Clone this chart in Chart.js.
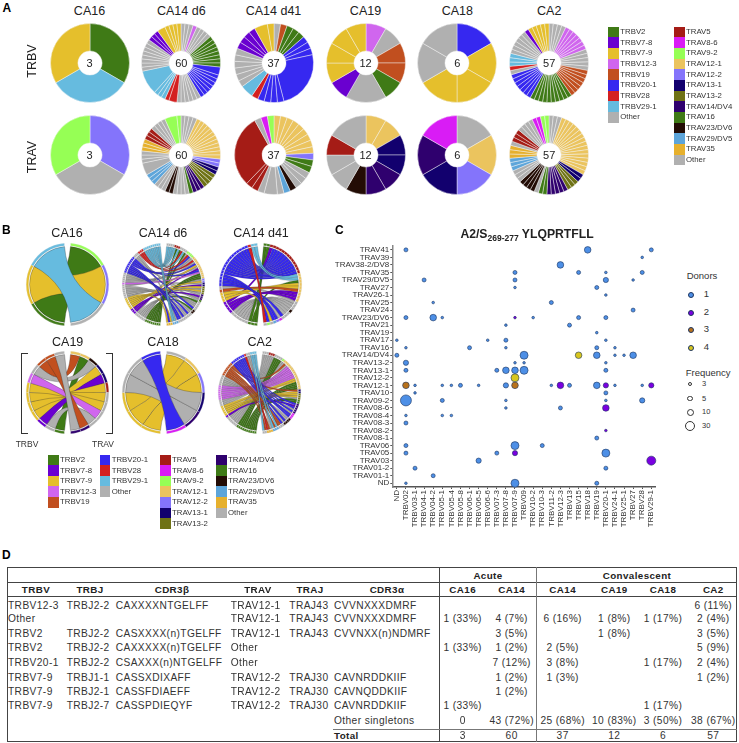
<!DOCTYPE html>
<html>
<head>
<meta charset="utf-8">
<style>
  html, body { margin: 0; padding: 0; background: #fff; }
  #page { position: relative; width: 739px; height: 743px; overflow: hidden; font-family: "Liberation Sans", Arial, sans-serif; color: #222; }
  #page canvas { position: absolute; }
  .t { position: absolute; white-space: nowrap; line-height: 1; }
  .box { position: absolute; }
  sub { font-size: 8.5px; line-height: 0; }
</style>
<script src="https://cdn.jsdelivr.net/npm/chart.js@4/dist/chart.umd.js"></script>
</head>
<body>
<div id="page"></div>
<script>
// gene colours
const betaGenes = ['TRBV2', 'TRBV7-8', 'TRBV7-9', 'TRBV12-3', 'TRBV19', 'TRBV20-1', 'TRBV28', 'TRBV29-1', 'Other'];
const betaColors = ['#3f7a16', '#6a00d0', '#e5bf2c', '#d066ee', '#c14f1f', '#3628f0', '#d42020', '#66bbdf', '#b0b0b0'];
const alphaGenes = ['TRAV5', 'TRAV8-6', 'TRAV9-2', 'TRAV12-1', 'TRAV12-2', 'TRAV13-1', 'TRAV13-2', 'TRAV14/DV4', 'TRAV16', 'TRAV23/DV6', 'TRAV29/DV5', 'TRAV35', 'Other'];
const alphaColors = ['#a51c16', '#d91cf5', '#96ff55', '#ebc45e', '#8474fb', '#12006e', '#6f7215', '#2f006e', '#3f7a16', '#230c05', '#5da5da', '#e6b02d', '#b0b0b0'];

const donors = ['CA16', 'CA14 d6', 'CA14 d41', 'CA19', 'CA18', 'CA2'];
const donorTotals = [3, 60, 37, 12, 6, 57];

// Panel A, clockwise from 12 o'clock: [gene, clone sizes...]
const pieBetaCA16 = [['TRBV2', 1], ['TRBV29-1', 1], ['TRBV7-9', 1]];
const pieBetaD6 = [['Other', 1, 1, 1], ['TRBV12-3', 1], ['Other', 1, 1, 1, 1], ['TRBV2', 1, 1, 1, 1, 1, 1, 1, 1], ['TRBV20-1', 2, 1, 1, 1, 1, 1, 1, 1], ['Other', 1, 1, 1, 1, 1, 1], ['TRBV28', 2, 1], ['TRBV29-1', 1, 1, 1, 6], ['Other', 1, 1, 1, 1, 1, 1, 1, 1], ['TRBV7-8', 1, 1, 1], ['TRBV7-9', 2, 1, 1, 1, 1]];
const pieBetaD41 = [['Other', 1], ['TRBV19', 1], ['TRBV2', 1, 1, 1], ['TRBV20-1', 1, 1, 1, 9, 1, 1, 1, 1], ['TRBV28', 1], ['TRBV29-1', 2], ['Other', 1, 1, 1, 1, 1, 1], ['TRBV7-8', 1, 1, 1, 1], ['TRBV7-9', 2, 1]];
const pieBetaCA19 = [['TRBV12-3', 1], ['Other', 1], ['TRBV19', 1, 1], ['TRBV2', 1], ['Other', 2], ['TRBV7-8', 1], ['TRBV7-9', 1, 1, 1, 1]];
const pieBetaCA18 = [['TRBV20-1', 1], ['TRBV7-9', 1, 1, 1], ['Other', 1, 1]];
const pieBetaCA2 = [['Other', 1, 1, 1, 1], ['TRBV12-3', 1, 1, 1, 1, 1, 1, 1], ['Other', 1, 1, 1, 1, 1], ['TRBV19', 1, 1, 1, 1, 1, 1, 1], ['TRBV2', 1, 1, 1, 1, 1, 1, 1, 1, 1, 1], ['TRBV20-1', 1, 1, 1, 1, 1, 1, 1], ['Other', 1], ['TRBV28', 1], ['TRBV29-1', 1, 1, 1], ['Other', 1, 1, 1, 1, 1, 1], ['TRBV7-8', 1], ['TRBV7-9', 1, 1, 1, 1, 1]];

const pieAlphaCA16 = [['TRAV12-2', 1], ['Other', 1], ['TRAV9-2', 1]];
const pieAlphaD6 = [['Other', 1, 1, 1, 1], ['TRAV12-1', 1, 1, 1, 1, 1, 1, 1, 1, 1, 1, 1, 1], ['TRAV12-2', 1, 1], ['TRAV13-1', 1, 1], ['TRAV13-2', 1, 1, 1, 1], ['TRAV14/DV4', 1, 1, 1], ['TRAV16', 1], ['Other', 1, 1, 1, 1], ['TRAV23/DV6', 1, 1], ['Other', 1, 1, 1], ['TRAV29/DV5', 1, 1, 1], ['Other', 3, 1, 1, 1], ['TRAV35', 1, 1, 1], ['TRAV5', 1, 1, 1], ['Other', 1, 1, 1, 1], ['TRAV9-2', 3, 1]];
const pieAlphaD41 = [['TRAV12-1', 1, 1, 1, 1, 1, 1, 1, 1, 1], ['TRAV12-2', 1], ['TRAV16', 1, 1], ['Other', 1, 1, 1], ['TRAV23/DV6', 1], ['TRAV29/DV5', 1], ['Other', 1, 2, 1], ['TRAV5', 1, 1, 11], ['Other', 1], ['TRAV8-6', 1], ['TRAV9-2', 1]];
const pieAlphaCA19 = [['TRAV12-1', 1, 1], ['TRAV13-1', 1, 1], ['TRAV14/DV4', 1, 1], ['TRAV23/DV6', 1], ['Other', 1, 1], ['TRAV5', 1], ['Other', 2]];
const pieAlphaCA18 = [['Other', 1], ['TRAV12-1', 1], ['TRAV12-2', 1], ['TRAV13-1', 1], ['TRAV14/DV4', 1], ['TRAV8-6', 1]];
const pieAlphaCA2 = [['Other', 1, 1, 1], ['TRAV12-1', 1, 1, 1, 1, 1, 1, 1, 1, 1, 1, 1, 1, 1, 1, 1, 1], ['TRAV13-1', 1, 1], ['TRAV13-2', 1, 1, 1], ['TRAV14/DV4', 1, 1, 1, 1, 1], ['TRAV16', 1, 1], ['Other', 1], ['TRAV23/DV6', 1, 1, 1, 1], ['Other', 1, 1, 1], ['TRAV29/DV5', 1, 1, 1], ['TRAV35', 1, 1, 1], ['Other', 1], ['TRAV5', 1, 1, 1], ['Other', 1, 1, 1, 1], ['TRAV8-6', 1, 1], ['TRAV9-2', 1, 1]];

// Panel B: ring order [gene, clones]; beta runs up the left side, alpha down the right
const ringBetaCA16 = [['TRBV2', 1], ['TRBV7-9', 1], ['TRBV29-1', 1]];
const ringAlphaCA16 = [['TRAV9-2', 1], ['TRAV12-2', 1], ['Other', 1]];
const linksCA16 = [0, 1, 2];

const ringBetaD6 = [['TRBV2', 8], ['Other', 6], ['TRBV7-8', 3], ['TRBV7-9', 6], ['Other', 7], ['TRBV12-3', 1], ['Other', 5], ['TRBV20-1', 9], ['Other', 3], ['TRBV28', 3], ['TRBV29-1', 9]];
const ringAlphaD6 = [['Other', 4], ['TRAV5', 3], ['Other', 4], ['TRAV9-2', 4], ['TRAV12-1', 12], ['TRAV12-2', 2], ['TRAV13-1', 2], ['TRAV13-2', 4], ['TRAV14/DV4', 3], ['TRAV16', 1], ['Other', 5], ['TRAV23/DV6', 2], ['Other', 8], ['TRAV29/DV5', 3], ['TRAV35', 3]];
const linksD6 = [5, 7, 10, 24, 25, 26, 39, 44, 27, 32, 40, 46, 48, 11, 21, 30, 36, 19, 28, 31, 33, 57, 59, 34, 37, 41, 42, 49, 51, 14, 23, 15, 17, 20, 29, 45, 47, 50, 52, 53, 58, 13, 18, 22, 43, 35, 38, 54, 8, 12, 16, 3, 2, 1, 0, 4, 6, 9, 55, 56];

const ringBetaD41 = [['TRBV2', 3], ['Other', 6], ['TRBV7-8', 4], ['TRBV7-9', 3], ['TRBV19', 1], ['Other', 1], ['TRBV20-1', 16], ['TRBV28', 1], ['TRBV29-1', 2]];
const ringAlphaD41 = [['TRAV16', 2], ['TRAV5', 13], ['TRAV12-1', 9], ['Other', 3], ['TRAV23/DV6', 1], ['Other', 3], ['TRAV8-6', 1], ['TRAV12-2', 1], ['TRAV29/DV5', 1], ['Other', 1], ['TRAV9-2', 1], ['Other', 1]];
const linksD41 = [0, 17, 1, 25, 26, 27, 28, 29, 31, 21, 22, 23, 2, 18, 19, 34, 20, 24, 30, 32, 33, 35, 14, 13, 12, 11, 10, 9, 8, 7, 6, 5, 4, 3, 36, 16, 15];

const ringBetaCA19 = [['TRBV2', 1], ['Other', 1], ['TRBV7-8', 1], ['TRBV7-9', 4], ['TRBV12-3', 1], ['Other', 1], ['TRBV19', 2], ['Other', 1]];
const ringAlphaCA19 = [['TRAV12-1', 2], ['TRAV23/DV6', 1], ['TRAV13-1', 2], ['TRAV5', 1], ['Other', 4], ['TRAV14/DV4', 2]];
const linksCA19 = [1, 9, 4, 3, 5, 6, 7, 8, 2, 0, 10, 11];

const ringBetaCA18 = [['TRBV7-9', 3], ['Other', 2], ['TRBV20-1', 1]];
const ringAlphaCA18 = [['Other', 1], ['TRAV12-1', 1], ['TRAV12-2', 1], ['TRAV13-1', 1], ['TRAV14/DV4', 1], ['TRAV8-6', 1]];
const linksCA18 = [2, 1, 0, 4, 3, 5];

const ringBetaCA2 = [['TRBV2', 10], ['Other', 6], ['TRBV7-8', 1], ['TRBV7-9', 5], ['Other', 3], ['TRBV12-3', 7], ['Other', 5], ['TRBV19', 7], ['TRBV20-1', 7], ['TRBV28', 1], ['Other', 2], ['TRBV29-1', 3]];
const ringAlphaCA2 = [['Other', 3], ['TRAV5', 3], ['Other', 4], ['TRAV9-2', 1], ['TRAV12-1', 16], ['TRAV13-1', 2], ['TRAV13-2', 3], ['TRAV16', 2], ['TRAV14/DV4', 5], ['TRAV8-6', 3], ['TRAV23/DV6', 4], ['Other', 3], ['TRAV29/DV5', 3], ['TRAV35', 3], ['Other', 2]];
const linksCA2 = [33, 32, 26, 25, 24, 23, 9, 8, 7, 6, 5, 4, 3, 2, 1, 0, 35, 30, 29, 28, 22, 21, 13, 11, 10, 20, 19, 18, 17, 16, 15, 14, 31, 37, 39, 42, 43, 55, 53, 50, 48, 47, 27, 12, 46, 44, 41, 40, 38, 36, 34, 54, 45, 52, 56, 51, 49];

// Panel C axes
const xTicks = ['ND', 'TRBV02', 'TRBV03-1', 'TRBV04-1', 'TRBV04-2', 'TRBV05-1', 'TRBV05-4', 'TRBV05-8', 'TRBV06-1', 'TRBV06-5', 'TRBV06-6', 'TRBV07-3', 'TRBV07-8', 'TRBV07-9', 'TRBV09', 'TRBV10-2', 'TRBV10-3', 'TRBV11-2', 'TRBV12-3', 'TRBV13', 'TRBV15', 'TRBV18', 'TRBV19', 'TRBV20-1', 'TRBV24-1', 'TRBV25-1', 'TRBV27', 'TRBV28', 'TRBV29-1'];
const yTicks = ['TRAV41', 'TRAV39', 'TRAV38-2/DV8', 'TRAV35', 'TRAV29/DV5', 'TRAV27', 'TRAV26-1', 'TRAV25', 'TRAV24', 'TRAV23/DV6', 'TRAV21', 'TRAV19', 'TRAV17', 'TRAV16', 'TRAV14/DV4', 'TRAV13-2', 'TRAV13-1', 'TRAV12-2', 'TRAV12-1', 'TRAV10', 'TRAV09-2', 'TRAV08-6', 'TRAV08-4', 'TRAV08-3', 'TRAV08-2', 'TRAV08-1', 'TRAV06', 'TRAV05', 'TRAV03', 'TRAV01-2', 'TRAV01-1', 'ND'];

// [TRBV, TRAV, frequency]
const oneDonor = [
  ['TRBV02', 'TRAV41', 3], ['TRBV18', 'TRAV41', 10], ['TRBV29-1', 'TRAV41', 3],
  ['TRBV28', 'TRAV39', 1], ['TRBV12-3', 'TRAV38-2/DV8', 10],
  ['TRBV07-9', 'TRAV35', 3], ['TRBV15', 'TRAV35', 3], ['TRBV20-1', 'TRAV35', 1], ['TRBV28', 'TRAV35', 3],
  ['TRBV04-1', 'TRAV29/DV5', 3], ['TRBV07-9', 'TRAV29/DV5', 3], ['TRBV20-1', 'TRAV29/DV5', 5], ['TRBV27', 'TRAV29/DV5', 1],
  ['TRBV07-9', 'TRAV27', 1], ['TRBV19', 'TRAV27', 3], ['TRBV20-1', 'TRAV26-1', 1],
  ['TRBV04-2', 'TRAV25', 1], ['TRBV11-2', 'TRAV25', 3], ['TRBV27', 'TRAV24', 3],
  ['TRBV02', 'TRAV23/DV6', 3], ['TRBV04-2', 'TRAV23/DV6', 10], ['TRBV05-1', 'TRAV23/DV6', 1], ['TRBV10-2', 'TRAV23/DV6', 1], ['TRBV15', 'TRAV23/DV6', 3], ['TRBV20-1', 'TRAV23/DV6', 3],
  ['TRBV07-8', 'TRAV21', 1], ['TRBV13', 'TRAV21', 3], ['TRBV19', 'TRAV19', 1],
  ['ND', 'TRAV17', 1], ['TRBV06-6', 'TRAV17', 1], ['TRBV07-8', 'TRAV17', 3], ['TRBV20-1', 'TRAV17', 1],
  ['TRBV02', 'TRAV16', 1], ['TRBV06-1', 'TRAV16', 3], ['TRBV07-8', 'TRAV16', 1], ['TRBV19', 'TRAV16', 3], ['TRBV24-1', 'TRAV16', 1],
  ['ND', 'TRAV14/DV4', 3], ['TRBV09', 'TRAV14/DV4', 15], ['TRBV19', 'TRAV14/DV4', 10], ['TRBV24-1', 'TRAV14/DV4', 1], ['TRBV25-1', 'TRAV14/DV4', 1], ['TRBV27', 'TRAV14/DV4', 10],
  ['TRBV02', 'TRAV13-2', 5], ['TRBV07-9', 'TRAV13-2', 1], ['TRBV09', 'TRAV13-2', 1], ['TRBV20-1', 'TRAV13-2', 1],
  ['TRBV02', 'TRAV13-1', 3], ['TRBV07-3', 'TRAV13-1', 3], ['TRBV07-8', 'TRAV13-1', 10], ['TRBV07-9', 'TRAV13-1', 10], ['TRBV09', 'TRAV13-1', 15], ['TRBV20-1', 'TRAV13-1', 3],
  ['TRBV03-1', 'TRAV12-1', 1], ['TRBV05-1', 'TRAV12-1', 1], ['TRBV05-4', 'TRAV12-1', 1], ['TRBV05-8', 'TRAV12-1', 3], ['TRBV06-5', 'TRAV12-1', 1], ['TRBV07-8', 'TRAV12-1', 5], ['TRBV11-2', 'TRAV12-1', 1], ['TRBV13', 'TRAV12-1', 3], ['TRBV19', 'TRAV12-1', 10], ['TRBV24-1', 'TRAV12-1', 1], ['TRBV28', 'TRAV12-1', 1],
  ['TRBV03-1', 'TRAV10', 1], ['TRBV20-1', 'TRAV10', 3],
  ['TRBV02', 'TRAV09-2', 30], ['TRBV05-1', 'TRAV09-2', 3], ['TRBV07-8', 'TRAV09-2', 1], ['TRBV20-1', 'TRAV09-2', 1], ['TRBV28', 'TRAV09-2', 5],
  ['TRBV07-8', 'TRAV08-6', 1], ['TRBV12-3', 'TRAV08-6', 3],
  ['TRBV02', 'TRAV08-4', 1], ['TRBV05-1', 'TRAV08-4', 1], ['TRBV05-4', 'TRAV08-4', 1],
  ['TRBV02', 'TRAV08-3', 3], ['TRBV19', 'TRAV08-1', 3],
  ['TRBV02', 'TRAV06', 3], ['TRBV07-9', 'TRAV06', 15], ['TRBV10-3', 'TRAV06', 3],
  ['TRBV02', 'TRAV05', 3], ['TRBV07-3', 'TRAV05', 3], ['TRBV20-1', 'TRAV05', 15],
  ['TRBV06-5', 'TRAV03', 5], ['TRBV03-1', 'TRAV01-2', 3], ['TRBV20-1', 'TRAV01-2', 3], ['TRBV04-2', 'TRAV01-1', 3],
  ['TRBV02', 'ND', 1], ['TRBV07-9', 'ND', 15], ['TRBV19', 'ND', 3]
];
const twoDonors = [
  ['TRBV07-9', 'TRAV23/DV6', 1], ['TRBV12-3', 'TRAV12-1', 10], ['TRBV20-1', 'TRAV12-1', 5], ['TRBV29-1', 'TRAV12-1', 5],
  ['TRBV20-1', 'TRAV08-6', 10], ['TRBV20-1', 'TRAV08-2', 1], ['TRBV07-9', 'TRAV05', 5], ['TRBV29-1', 'TRAV03', 20]
];
const threeDonors = [['TRBV02', 'TRAV12-1', 10], ['TRBV07-9', 'TRAV12-1', 10]];
const fourDonors = [['TRBV15', 'TRAV14/DV4', 10], ['TRBV07-9', 'TRAV12-2', 15]];
const donorLevels = ['1', '2', '3', '4'];
const donorLevelColors = ['#4d8fe6', '#7a00e0', '#b8721c', '#d8c61e'];
const freqLevels = [3, 5, 10, 30];

// Panel D
const tableHeads = ['TRBV', 'TRBJ', 'CDR3\u03b2', 'TRAV', 'TRAJ', 'CDR3\u03b1', 'CA16', 'CA14', 'CA14', 'CA19', 'CA18', 'CA2'];
const tableClones = [
  ['TRBV12-3', 'TRBJ2-2', 'CAXXXXNTGELFF', 'TRAV12-1', 'TRAJ43', 'CVVNXXXDMRF'],
  ['Other', '', '', 'TRAV12-1', 'TRAJ43', 'CVVNXXXDMRF'],
  ['TRBV2', 'TRBJ2-2', 'CASXXXX(n)TGELFF', 'TRAV12-1', 'TRAJ43', 'CVVNXX(n)NDMRF'],
  ['TRBV2', 'TRBJ2-2', 'CAXXXXX(n)TGELFF', 'Other', '', ''],
  ['TRBV20-1', 'TRBJ2-2', 'CSAXXX(n)NTGELFF', 'Other', '', ''],
  ['TRBV7-9', 'TRBJ1-1', 'CASSXDIXAFF', 'TRAV12-2', 'TRAJ30', 'CAVNRDDKIIF'],
  ['TRBV7-9', 'TRBJ2-1', 'CASSFDIAEFF', 'TRAV12-2', 'TRAJ30', 'CAVNQDDKIIF'],
  ['TRBV7-9', 'TRBJ2-7', 'CASSPDIEQYF', 'TRAV12-2', 'TRAJ30', 'CAVNRDDKIIF']
];
const tableCounts = [
  ['', '', '', '', '', '6 (11%)'],
  ['1 (33%)', '4 (7%)', '6 (16%)', '1 (8%)', '1 (17%)', '2 (4%)'],
  ['', '3 (5%)', '', '1 (8%)', '', '3 (5%)'],
  ['1 (33%)', '1 (2%)', '2 (5%)', '', '', '5 (9%)'],
  ['', '7 (12%)', '3 (8%)', '', '1 (17%)', '2 (4%)'],
  ['', '1 (2%)', '1 (3%)', '', '', '1 (2%)'],
  ['', '1 (2%)', '', '', '', ''],
  ['1 (33%)', '', '', '', '1 (17%)', '']
];
const singletons = ['0', '43 (72%)', '25 (68%)', '10 (83%)', '3 (50%)', '38 (67%)'];

Chart.defaults.font.family = '"Liberation Sans", Arial, sans-serif';
Chart.defaults.animation = false;
Chart.defaults.plugins.legend.display = false;
Chart.defaults.plugins.tooltip.enabled = false;

const page = document.getElementById('page');

function txt(x, y, s, size, o = {}) {
  const el = document.createElement('div');
  el.className = 't';
  el.innerHTML = s;
  const ax = o.anchor === 'c' ? '-50%' : (o.anchor === 'r' ? '-100%' : '0');
  el.style.cssText = `left:${x}px;top:${y}px;font-size:${size}px;transform:translate(${ax},-50%)${o.rot ? ' rotate(-90deg)' : ''};` +
    `color:${o.color || '#222'};font-weight:${o.bold ? 'bold' : 'normal'};letter-spacing:${o.ls || 0}px;`;
  page.appendChild(el);
}

function box(x, y, w, h, c, extra = '') {
  const el = document.createElement('div');
  el.className = 'box';
  el.style.cssText = `left:${x}px;top:${y}px;width:${w}px;height:${h}px;background:${c};${extra}`;
  page.appendChild(el);
}

function addCanvas(x, y, w, h) {
  const c = document.createElement('canvas');
  c.width = w;
  c.height = h;
  c.style.left = x + 'px';
  c.style.top = y + 'px';
  c.style.width = w + 'px';
  c.style.height = h + 'px';
  page.appendChild(c);
  return c;
}

function colorOf(gene) {
  const b = betaGenes.indexOf(gene);
  if (gene !== 'Other' && b >= 0) return betaColors[b];
  return alphaColors[alphaGenes.indexOf(gene)];
}

// ---- Panel A ----
function drawPie(cx, cy, slices) {
  const values = [], colors = [];
  slices.forEach(([gene, ...sizes]) => sizes.forEach(s => { values.push(s); colors.push(colorOf(gene)); }));
  const R = 39.5, size = 84;
  new Chart(addCanvas(cx - size / 2, cy - size / 2, size, size), {
    type: 'doughnut',
    data: { datasets: [{ data: values, backgroundColor: colors, borderColor: '#f4f4f4', borderWidth: 0.45 }] },
    options: { responsive: false, radius: R, cutout: '30.4%', layout: { padding: 0 } }
  });
}

const pieX = [89.5, 181.3, 273.5, 365.5, 457.3, 549.2];
const pieBeta = [pieBetaCA16, pieBetaD6, pieBetaD41, pieBetaCA19, pieBetaCA18, pieBetaCA2];
const pieAlpha = [pieAlphaCA16, pieAlphaD6, pieAlphaD41, pieAlphaCA19, pieAlphaCA18, pieAlphaCA2];
donors.forEach((d, i) => {
  drawPie(pieX[i], 62.7, pieBeta[i]);
  drawPie(pieX[i], 154.7, pieAlpha[i]);
  txt(pieX[i], 11, d, 12.5, { anchor: 'c' });
  txt(pieX[i], 62.7, donorTotals[i], 11, { anchor: 'c' });
  txt(pieX[i], 154.7, donorTotals[i], 11, { anchor: 'c' });
});
txt(32, 61, 'TRBV', 12.5, { anchor: 'c', rot: true });
txt(32, 157, 'TRAV', 12.5, { anchor: 'c', rot: true });

function legendColumn(x, y, genes, colors, step) {
  genes.forEach((g, i) => {
    box(x, y + i * step - 5.4, 10.6, 10.8, colors[i]);
    txt(x + 12, y + i * step, g, 7.8, { color: '#333' });
  });
}
legendColumn(608.3, 32, betaGenes, betaColors, 10.67);
legendColumn(674, 32, alphaGenes, alphaColors, 10.67);

// ---- Panel B ----
const ribbons = {
  id: 'ribbons',
  beforeDatasetsDraw(chart, args, opts) {
    const arcs = chart.getDatasetMeta(0).data;
    const ctx = chart.ctx;
    const na = opts.alpha.length;
    // slice layout is: gap, alpha..., gap, beta...
    const alphaArc = i => arcs[1 + i];
    const betaArc = i => arcs[2 + na + i];
    const order = opts.beta.map((g, i) => i);
    if (opts.otherFirst) order.sort((a, b) => (opts.beta[b] === 'Other') - (opts.beta[a] === 'Other') || a - b);
    const { x: cx, y: cy, innerRadius } = arcs[0].getProps(['x', 'y', 'innerRadius']);
    const R = innerRadius - 0.9;
    ctx.save();
    ctx.lineWidth = opts.lineWidth;
    ctx.strokeStyle = 'rgba(45,45,45,0.6)';
    order.forEach(i => {
      const a = betaArc(i), b = alphaArc(opts.links[i]);
      ctx.beginPath();
      ctx.arc(cx, cy, R, a.startAngle, a.endAngle);
      ctx.quadraticCurveTo(cx, cy, cx + R * Math.cos(b.startAngle), cy + R * Math.sin(b.startAngle));
      ctx.arc(cx, cy, R, b.startAngle, b.endAngle);
      ctx.quadraticCurveTo(cx, cy, cx + R * Math.cos(a.startAngle), cy + R * Math.sin(a.startAngle));
      ctx.closePath();
      ctx.fillStyle = colorOf(opts.beta[i]);
      ctx.fill();
      ctx.stroke();
    });
    ctx.restore();
  }
};

const expandRing = ring => ring.flatMap(([gene, n]) => Array(n).fill(gene));

function drawChord(cx, cy, R, gapDeg, ringBeta, ringAlpha, links, otherFirst) {
  const beta = expandRing(ringBeta), alpha = expandRing(ringAlpha);
  const gap = alpha.length * gapDeg / (180 - gapDeg);
  const values = [gap, ...alpha.map(() => 1), gap, ...beta.map(() => 1)];
  const colors = ['rgba(0,0,0,0)', ...alpha.map(colorOf), 'rgba(0,0,0,0)', ...beta.map(colorOf)];
  const borders = ['rgba(0,0,0,0)', ...alpha.map(() => '#ddd'), 'rgba(0,0,0,0)', ...beta.map(() => '#ddd')];
  const size = Math.ceil(2 * R + 6);
  new Chart(addCanvas(cx - size / 2, cy - size / 2, size, size), {
    type: 'doughnut',
    data: { datasets: [{ data: values, backgroundColor: colors, borderColor: borders, borderWidth: 0.25 }] },
    options: {
      responsive: false,
      radius: R,
      cutout: ((R - 2.4) / R * 100) + '%',
      rotation: -gapDeg / 2,
      plugins: { ribbons: { beta, alpha, links, otherFirst, lineWidth: beta.length > 20 ? 0.35 : 0.5 } }
    },
    plugins: [ribbons]
  });
}

const chordX = [67, 163, 260.5, 67.7, 163, 259.7];
const chordY = [284, 284, 284, 392, 392, 392];
const chordTitleY = [233.3, 233.3, 233.3, 342.3, 342.3, 342.3];
const ringBetas = [ringBetaCA16, ringBetaD6, ringBetaD41, ringBetaCA19, ringBetaCA18, ringBetaCA2];
const ringAlphas = [ringAlphaCA16, ringAlphaD6, ringAlphaD41, ringAlphaCA19, ringAlphaCA18, ringAlphaCA2];
const chordLinks = [linksCA16, linksD6, linksD41, linksCA19, linksCA18, linksCA2];
donors.forEach((d, i) => {
  drawChord(chordX[i], chordY[i], 41.3, 9, ringBetas[i], ringAlphas[i], chordLinks[i], donorTotals[i] > 20);
  txt(chordX[i] + (i === 2 ? 0.5 : 0), chordTitleY[i], d, 12.5, { anchor: 'c' });
});

// brackets round CA19
box(20.5, 353, 7, 81, 'transparent', 'border:1px solid #333;border-right:none;box-sizing:border-box;');
box(106, 353, 7, 81, 'transparent', 'border:1px solid #333;border-left:none;box-sizing:border-box;');
txt(27, 444, 'TRBV', 8.5, { anchor: 'c', color: '#333' });
txt(103, 444, 'TRAV', 8.5, { anchor: 'c', color: '#333' });

legendColumn(48, 460, betaGenes.slice(0, 5), betaColors.slice(0, 5), 10.6);
legendColumn(99.7, 460, betaGenes.slice(5), betaColors.slice(5), 10.6);
legendColumn(160, 460, alphaGenes.slice(0, 7), alphaColors.slice(0, 7), 10.6);
legendColumn(216, 460, alphaGenes.slice(7), alphaColors.slice(7), 10.6);

// ---- Panel C ----
const radiusOf = f => ({ 1: 1.3, 3: 2, 5: 2.6, 10: 3.3, 15: 4, 20: 4.5, 30: 5.5 })[f];
const bubbles = (rows, i) => ({
  data: rows.map(([x, y, f]) => ({ x, y, r: radiusOf(f) })),
  backgroundColor: donorLevelColors[i],
  borderColor: '#1d3560',
  borderWidth: 0.6
});
const tickFont = { size: 8 };
new Chart(addCanvas(335, 240, 327, 290), {
  type: 'bubble',
  data: { datasets: [oneDonor, twoDonors, threeDonors, fourDonors].map(bubbles) },
  options: {
    responsive: false,
    layout: { padding: { top: 4, right: 2, left: 0, bottom: 0 } },
    scales: {
      x: {
        type: 'category', labels: xTicks, offset: true,
        afterFit: s => { s.height = 43; },
        grid: { drawOnChartArea: false, tickLength: 2, color: '#555' },
        border: { color: '#555', width: 1.5 },
        ticks: { autoSkip: false, minRotation: 90, maxRotation: 90, font: tickFont, color: '#333', padding: 1 }
      },
      y: {
        type: 'category', labels: yTicks, offset: true,
        afterFit: s => { s.width = 57.3; },
        grid: { drawOnChartArea: false, tickLength: 2, color: '#555' },
        border: { color: '#888', width: 1.5 },
        ticks: { autoSkip: false, font: tickFont, color: '#333', padding: 1 }
      }
    }
  }
});
txt(527, 234, 'A2/S<sub>269-277</sub> YLQPRTFLL', 12.2, { anchor: 'c', bold: true });

txt(686.7, 276, 'Donors', 9.5, { color: '#333' });
const donorLegendY = [294, 311.7, 329.3, 347];
donorLevels.forEach((d, i) => {
  box(688, donorLegendY[i] - 2, 4, 4, donorLevelColors[i], 'border-radius:50%;border:0.6px solid #1d3560;');
  txt(706.5, donorLegendY[i], d, 9.5, { anchor: 'c', color: '#333' });
});
txt(685.7, 372.7, 'Frequency', 9.5, { color: '#333' });
const freqLegendY = [384.3, 398.7, 412.3, 426.3];
const freqLegendR = [2, 2.8, 3.5, 5];
freqLevels.forEach((f, i) => {
  const r = freqLegendR[i];
  box(690 - r, freqLegendY[i] - r, 2 * r, 2 * r, '#fff', 'border-radius:50%;border:0.7px solid #333;box-sizing:border-box;');
  txt(702, freqLegendY[i], f, 7.5, { color: '#333' });
});

// ---- Panel D ----
const headX = [36, 90, 172, 258, 310, 387, 462.7, 511.7, 562.7, 614.3, 663, 713.3];
const cloneX = [8, 66.7, 115.7, 230.7, 289.3, 334];
const rowY = [605.7, 619, 633.7, 648.3, 663, 677.7, 692, 706.3];
const cellFont = 10.2, cellLs = 0.4;

box(7, 567, 730, 175, 'transparent', 'border:1px solid #444;box-sizing:border-box;');
box(7, 581.5, 730, 0.8, '#444');
box(7, 595.5, 730, 0.8, '#444');
box(439, 567, 1, 175, '#444');
box(535.6, 567, 1.6, 175, '#777');
box(333, 728.5, 404, 1.4, '#777');

txt(488, 576, 'Acute', 9.8, { anchor: 'c', bold: true, ls: 0.4 });
txt(637, 576, 'Convalescent', 9.8, { anchor: 'c', bold: true, ls: 0.4 });
tableHeads.forEach((h, i) => txt(headX[i], 590, h, 9.8, { anchor: 'c', bold: true, ls: 0.4 }));
tableClones.forEach((row, r) => {
  row.forEach((s, c) => { if (s) txt(cloneX[c], rowY[r], s, cellFont, { ls: cellLs, color: '#333' }); });
  tableCounts[r].forEach((s, c) => { if (s) txt(headX[6 + c], rowY[r], s, cellFont, { anchor: 'c', ls: cellLs, color: '#333' }); });
});
txt(334, 721.3, 'Other singletons', cellFont, { ls: cellLs, color: '#333' });
txt(334, 735.7, 'Total', 9.8, { bold: true, ls: 0.4 });
singletons.forEach((s, c) => txt(headX[6 + c], 721.3, s, cellFont, { anchor: 'c', ls: cellLs, color: '#333' }));
donorTotals.forEach((n, c) => txt(headX[6 + c], 735.7, n, cellFont, { anchor: 'c', ls: cellLs, color: '#333' }));

// panel letters
txt(2.5, 8, 'A', 12, { bold: true, color: '#000' });
txt(2, 230, 'B', 12, { bold: true, color: '#000' });
txt(335, 230, 'C', 12, { bold: true, color: '#000' });
txt(2, 555, 'D', 12, { bold: true, color: '#000' });
</script>
</body>
</html>
